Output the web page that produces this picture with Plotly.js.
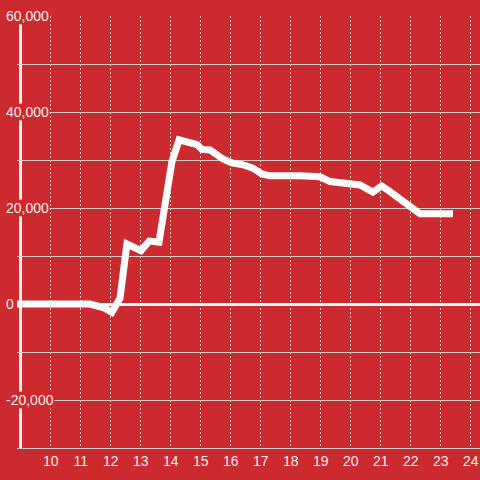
<!DOCTYPE html>
<html>
<head>
<meta charset="utf-8">
<script src="https://cdn.plot.ly/plotly-3.0.1.min.js"></script>
<style>html,body{margin:0;padding:0;background:#cc2a2e;}#chart{width:480px;height:480px;}</style>
</head>
<body>
<div id="chart"></div>
<script>
// Hours of the day (x) and values (y)
const hours = [8.88, 11.31, 11.78, 12.04, 12.31, 12.54, 13.01, 13.28, 13.61, 13.84, 14.04, 14.28,
  14.71, 14.88, 15.04, 15.31, 15.74, 16.04, 16.41, 16.74, 17.04, 17.31, 18.31, 18.98, 19.31,
  19.64, 20.18, 20.31, 20.74, 21.03, 21.31, 21.64, 21.88, 22.31, 23.41];
const values = [0, 0, -800, -1700, 1200, 12500, 11100, 13100, 12900, 22700, 29600, 34200,
  33500, 33200, 32200, 32100, 30200, 29400, 29000, 28300, 27100, 26700, 26700, 26500, 25500,
  25200, 25000, 24800, 23300, 24600, 23400, 21900, 21100, 18800, 18800];
const xTickVals = [10, 11, 12, 13, 14, 15, 16, 17, 18, 19, 20, 21, 22, 23, 24];
const yLabelVals = [-20000, 0, 20000, 40000, 60000];
const yLabelText = ["-20,000", "0", "20,000", "40,000", "60,000"];

const bg = "#cc2a2e";
const textColor = "#eeeeee";
const gridColor = "#cccccc";
const fontFam = "Liberation Sans, Arial, sans-serif";
const plotLeft = 17, plotWidth = 463;

const annotations = yLabelVals.map((v, i) => ({
  x: (5 - plotLeft) / plotWidth, xref: "paper", xanchor: "left",
  y: v, yref: "y", yanchor: "middle",
  text: yLabelText[i], showarrow: false,
  font: {family: fontFam, size: 14, color: textColor},
  bgcolor: bg, borderpad: 0
}));

const data = [{
  x: hours, y: values, type: "scatter", mode: "lines",
  line: {color: "#ffffff", width: 7},
  hoverinfo: "skip"
}];

const layout = {
  width: 480, height: 480,
  margin: {l: plotLeft, r: 0, t: 16, b: 32},
  paper_bgcolor: bg, plot_bgcolor: bg,
  showlegend: false,
  xaxis: {
    range: [8.877, 24.31],
    tickmode: "array", tickvals: xTickVals, ticktext: xTickVals.map(String),
    ticks: "", showgrid: true, gridcolor: gridColor, gridwidth: 1, griddash: "2px,2px",
    zeroline: false, showline: true, linecolor: gridColor, linewidth: 1,
    tickfont: {family: fontFam, size: 14, color: textColor}
  },
  yaxis: {
    range: [-30000, 60000], dtick: 10000, tick0: 0,
    showticklabels: false, ticks: "",
    showgrid: true, gridcolor: gridColor, gridwidth: 1,
    zeroline: true, zerolinecolor: "#ffffff", zerolinewidth: 3,
    showline: false
  },
  shapes: [{
    type: "line", xref: "paper", yref: "paper",
    x0: (20.5 - plotLeft) / plotWidth, x1: (20.5 - plotLeft) / plotWidth,
    y0: 0, y1: 1, line: {color: "#f2f2f2", width: 3}, layer: "below"
  }],
  annotations: annotations
};

Plotly.newPlot("chart", data, layout, {displayModeBar: false, staticPlot: true});
</script>
</body>
</html>
